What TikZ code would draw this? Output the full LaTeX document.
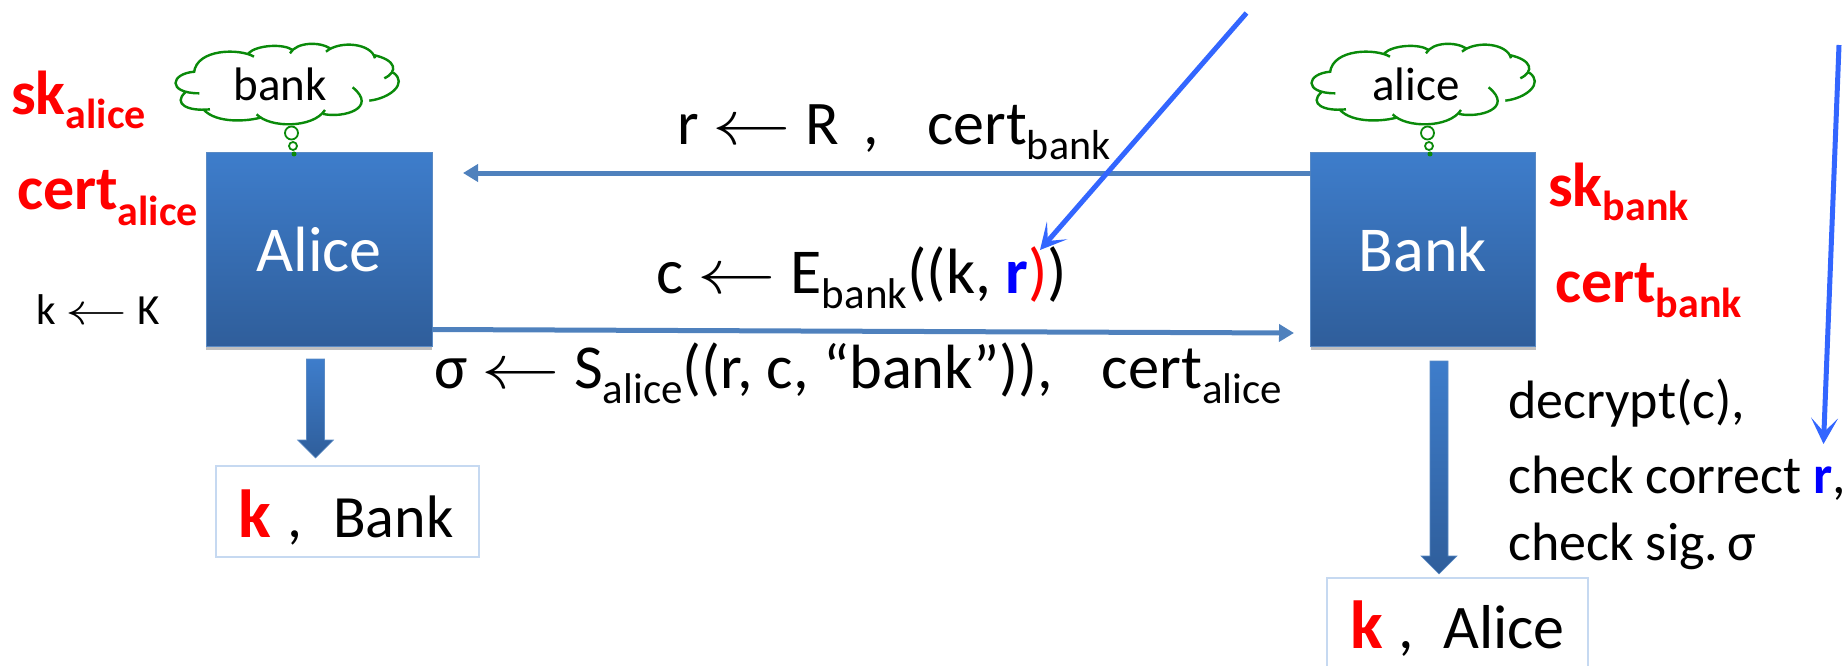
\documentclass[tikz,border=0pt]{standalone}
\usepackage{graphicx}
\usepackage{fontspec}
\setmainfont{Carlito}
\usepackage{tikz}
\usetikzlibrary{arrows.meta,calc,shadows}

\definecolor{boxtop}{HTML}{3E7DCB}
\definecolor{boxbot}{HTML}{2F5E9B}
\definecolor{boxline}{HTML}{5A8AC4}
\definecolor{msgline}{HTML}{4F81BD}
\definecolor{hintblue}{HTML}{3366FF}
\definecolor{resline}{HTML}{C6D9F1}
\definecolor{cloudgreen}{HTML}{0A8A0A}

\newcommand{\sz}[1]{\fontsize{#1}{#1}\selectfont}
\newcommand{\drawnfrom}{\scalebox{7.85}[6.3]{\normalsize$\leftarrow$}}
\newcommand{\lowtxt}[3]{\raisebox{-#1pt}{\sz{#2}#3}}

\tikzset{
  lbl/.style={inner sep=0pt,anchor=base west},
  party/.style={draw=boxline,line width=1pt,top color=boxtop,bottom color=boxbot,text=white,
    minimum height=193pt,inner sep=0pt,outer sep=0pt,font=\sz{64},
    drop shadow={shadow xshift=0pt,shadow yshift=-4pt,opacity=.5}},
  result/.style={draw=resline,line width=2pt,minimum width=263pt,inner sep=0pt,outer sep=0pt},
  msgarrow/.style={draw=msgline,line width=5pt,-{Triangle[length=15pt,width=17pt]}},
  hintarrow/.style={draw=hintblue,line width=5pt,-{Stealth[length=26pt,width=27pt,inset=14pt]}},
  fatarrow/.style={draw=boxline,line width=.6pt,top color=boxtop,bottom color=boxbot,
    to path={let \p1=(\tikztostart),\p2=(\tikztotarget) in
      (\x1-9pt,\y1) -- (\x1+9pt,\y1) -- (\x1+9pt,\y2+18pt) -- (\x1+18pt,\y2+18pt)
      -- (\x2,\y2) -- (\x1-18pt,\y2+18pt) -- (\x1-9pt,\y2+18pt) -- cycle}},
  puff/.pic={
    \draw[line width=2.4pt,cloudgreen]
      (585,215) .. controls (510,220) and (500,280) .. (598,280)
      (555,278) .. controls (520,310) and (560,335) .. (630,328)
      (612,330) .. controls (650,370) and (740,365) .. (785,352)
      (770,343) .. controls (810,385) and (940,385) .. (975,330)
      (970,342) .. controls (1030,355) and (1135,325) .. (1058,262)
      (1108,302) .. controls (1170,295) and (1225,250) .. (1180,218)
      (1153,235) .. controls (1195,215) and (1190,180) .. (1120,165)
      (1125,175) .. controls (1115,130) and (1020,120) .. (978,155)
      (990,145) .. controls (960,125) and (890,125) .. (870,160)
      (878,150) .. controls (850,130) and (770,135) .. (745,160)
      (762,170) .. controls (720,145) and (590,145) .. (582,218);
  }
}

\begin{document}
\begin{tikzpicture}[x=1pt,y=-1pt]
  \useasboundingbox (0,0) rectangle (1847,666);

  % Parties
  \foreach \name/\lab/\cx/\boxw in {alice/Alice/319/226,bank/Bank/1423/225} {
    \node[party,minimum width=\boxw pt] (\name) at (\cx,249.5) {\lab};
  }

  % Clouds with their tails
  \foreach \name/\word/\dx/\tx in {cloudbank/bank/0/291.5,cloudalice/alice/1136/1427.5} {
    \begin{scope}[shift={(\dx,0)},x=.3333pt,y=-.3333pt]
      \pic {puff};
    \end{scope}
    \node[inner sep=0pt,font=\sz{47}] (\name) at (\dx+280,84) {\word};
    \draw[cloudgreen,line width=1.8pt] (\tx,133) circle (6.5pt) (\tx+1.5,146) circle (4pt);
    \fill[cloudgreen] (\tx+2.5,154) circle (2.5pt);
  }

  % Keys and certificates
  \node[lbl,text=red,font=\bfseries\sz{62}] (skalice) at (11,115) {sk\lowtxt{14}{42}{alice}};
  \node[lbl,text=red,font=\bfseries\sz{62}] (certalice) at (17,209) {cert\lowtxt{16}{42}{alice}};
  \node[lbl,text=red,font=\bfseries\sz{62}] (skbank) at (1548,206) {sk\lowtxt{14}{42}{bank}};
  \node[lbl,text=red,font=\bfseries\sz{62}] (certbank) at (1555,302) {cert\lowtxt{15}{42}{bank}};
  \node[lbl,font=\sz{43}] (pickk) at (36,324) {k \scalebox{6.2}[4.4]{\normalsize$\leftarrow$} K};

  % Messages
  \node[lbl,font=\sz{62}] (msgone) at (677,145) {r \drawnfrom{} R\, ,\, \, cert\lowtxt{15}{42}{bank}};
  \node[lbl,font=\sz{64}] (msgtwo) at (656,293) {c \drawnfrom{} E\lowtxt{15}{43}{bank}((k, {\bfseries\color{blue}r}{\color{red})})};
  \node[lbl,font=\sz{62.5}] (msgthree) at (434,388) {σ \drawnfrom{} S\lowtxt{15}{43}{alice}((r, c, “bank”)),\, \, cert\lowtxt{15}{43}{alice}};

  \coordinate (rend) at (463,173);
  \coordinate (cfrom) at (432,329.5);
  \coordinate (cend) at (1294,333);
  \draw[msgarrow] (bank.west |- rend) -- (rend);
  \draw[msgarrow] (cfrom) -- (cend);

  % Checks on the bank side
  \foreach \y/\chk/\txt in {418/chka/{decrypt(c),},493/chkb/{check correct {\bfseries\color{blue}r},},560/chkc/{check sig.\,σ}} {
    \node[lbl,font=\sz{54}] (\chk) at (1508,\y) {\txt};
  }

  % Results
  \node[result,minimum height=91pt] (resbank) at (347,511.5) {};
  \node[result,minimum height=92pt,minimum width=261pt] (resalice) at (1457.5,624) {};
  \node[lbl,text=red,font=\bfseries\sz{68}] (kbank) at (238,537) {k};
  \node[lbl,font=\sz{60}] (combank) at (287,537) {,};
  \node[lbl,font=\sz{60}] (namebank) at (333,537) {Bank};
  \node[lbl,text=red,font=\bfseries\sz{68}] (kalice) at (1350,648) {k};
  \node[lbl,font=\sz{62}] (comalice) at (1398,648) {,};
  \node[lbl,font=\sz{62}] (namealice) at (1443,648) {Alice};

  \coordinate (afrom) at (315.5,359);
  \coordinate (ato) at (315.5,458);
  \coordinate (bfrom) at (1439,361);
  \coordinate (bto) at (1439,574);
  \path[fatarrow] (afrom) to (ato);
  \path[fatarrow] (bfrom) to (bto);

  % Pointers to r
  \coordinate (hintafrom) at (1246.5,13);
  \coordinate (hintato) at (1040,250);
  \coordinate (hintbfrom) at (1839,45);
  \coordinate (hintbto) at (1823.5,444);
  \draw[hintarrow] (hintafrom) -- (hintato);
  \draw[hintarrow] (hintbfrom) -- (hintbto);
\end{tikzpicture}
\end{document}
